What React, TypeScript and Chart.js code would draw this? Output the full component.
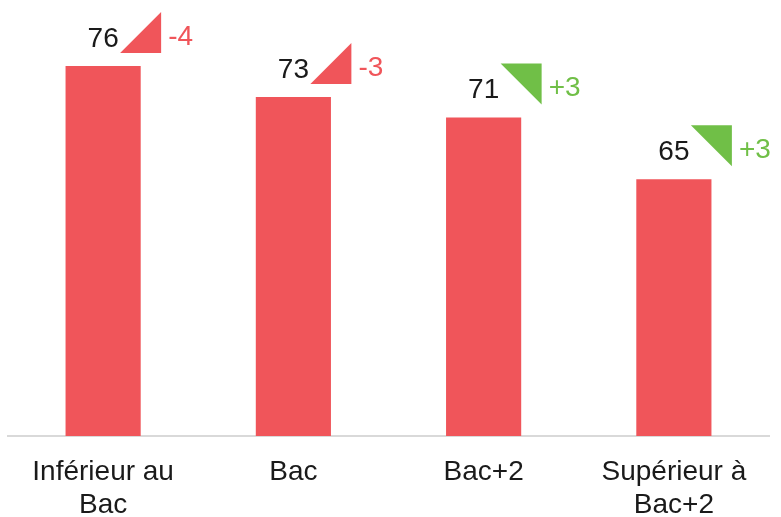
import React, { useEffect, useRef } from "react";
import { Chart, registerables } from "chart.js";

Chart.register(...registerables);

const categories: (string | string[])[] = [["Inférieur au", "Bac"], "Bac", "Bac+2", ["Supérieur à", "Bac+2"]];
const values: number[] = [76, 73, 71, 65];
const deltas: number[] = [-4, -3, 3, 3];

const RED = "#F0555A";
const GREEN = "#70BF47";
const FONT = "'Liberation Sans', Arial, Helvetica, sans-serif";

const labelPlugin = {
  id: "deltaLabels",
  afterDatasetsDraw(chart: any) {
    const ctx = chart.ctx as CanvasRenderingContext2D;
    const meta = chart.getDatasetMeta(0);
    ctx.save();
    meta.data.forEach((bar: any, i: number) => {
      const x = bar.x;
      const y = bar.y;
      ctx.font = `28px ${FONT}`;
      ctx.fillStyle = "#1a1a1a";
      ctx.textAlign = "center";
      ctx.textBaseline = "alphabetic";
      ctx.fillText(String(values[i]), x, y - 19);
      const d = deltas[i];
      const color = d < 0 ? RED : GREEN;
      const L = x + 17;
      const R = x + 58;
      const T = y - 54;
      const B = y - 13;
      ctx.fillStyle = color;
      ctx.beginPath();
      if (d < 0) {
        ctx.moveTo(L, B);
        ctx.lineTo(R, B);
        ctx.lineTo(R, T);
      } else {
        ctx.moveTo(L, T);
        ctx.lineTo(R, T);
        ctx.lineTo(R, B);
      }
      ctx.closePath();
      ctx.fill();
      ctx.font = `28px ${FONT}`;
      ctx.textAlign = "left";
      ctx.fillText((d > 0 ? "+" : "") + String(d), x + 65, y - 21);
    });
    ctx.restore();
  },
};

export default function App() {
  const ref = useRef<HTMLCanvasElement | null>(null);
  useEffect(() => {
    if (!ref.current) return;
    const chart = new Chart(ref.current, {
      type: "bar",
      data: {
        labels: categories,
        datasets: [
          {
            data: values,
            backgroundColor: RED,
            barPercentage: 0.395,
            categoryPercentage: 1,
          },
        ],
      },
      options: {
        responsive: false,
        animation: false,
        layout: { padding: { top: 25, left: 8, right: 12, bottom: 0 } },
        plugins: {
          legend: { display: false },
          tooltip: { enabled: false },
          title: { display: false },
        },
        scales: {
          x: {
            grid: { display: false, drawTicks: false },
            border: { display: true, color: "#d9d9d9", width: 2 },
            ticks: {
              color: "#1a1a1a",
              font: { family: FONT, size: 28, lineHeight: 1.2 },
              padding: 19,
              maxRotation: 0,
              autoSkip: false,
            },
            afterFit(scale: any) {
              scale.height = 81;
            },
          },
          y: {
            display: false,
            min: 40,
            max: 80,
          },
        },
      },
      plugins: [labelPlugin],
    });
    return () => chart.destroy();
  }, []);
  return (
    <div style={{ position: "fixed", left: 0, top: 0, width: 781, height: 517 }}>
      <canvas ref={ref} width={781} height={517} style={{ display: "block" }} />
    </div>
  );
}
